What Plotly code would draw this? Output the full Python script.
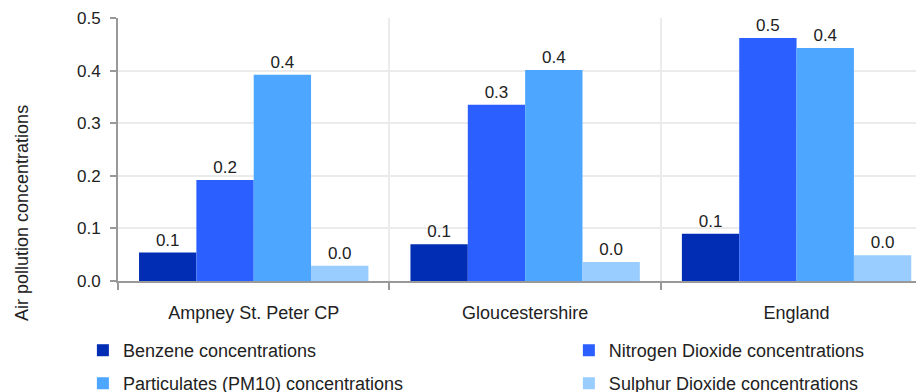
import plotly.graph_objects as go

categories = ["Ampney St. Peter CP", "Gloucestershire", "England"]
series_names = [
    "Benzene concentrations",
    "Nitrogen Dioxide concentrations",
    "Particulates (PM10) concentrations",
    "Sulphur Dioxide concentrations",
]
benzene = [0.054, 0.070, 0.090]
nitrogen_dioxide = [0.192, 0.335, 0.462]
pm10 = [0.392, 0.401, 0.443]
sulphur_dioxide = [0.029, 0.036, 0.049]
y_ticks = [0.0, 0.1, 0.2, 0.3, 0.4, 0.5]
y_title = "Air pollution concentrations"

series_values = [benzene, nitrogen_dioxide, pm10, sulphur_dioxide]
colors = ["#002db3", "#2b5fff", "#4da6ff", "#99ccff"]
legends = ["legend", "legend2", "legend3", "legend4"]

FONT = "Liberation Sans, Arial, sans-serif"
TXT = "#222222"

fig = go.Figure()
for name, vals, col, lg in zip(series_names, series_values, colors, legends):
    fig.add_trace(go.Bar(
        x=categories, y=vals, name=name,
        marker=dict(color=col, line=dict(width=0)),
        texttemplate="%{y:.1f}", textposition="outside",
        textfont=dict(family=FONT, size=17, color=TXT),
        cliponaxis=False, legend=lg, showlegend=True,
    ))

def leg(x, y):
    return dict(
        orientation="v", x=x, xanchor="left", y=y, yanchor="top",
        font=dict(family=FONT, size=18, color=TXT),
        bgcolor="rgba(0,0,0,0)", visible=True,
    )

fig.update_layout(
    width=916, height=392,
    showlegend=True,
    margin=dict(l=118, r=0, t=18, b=111, autoexpand=False),
    paper_bgcolor="white", plot_bgcolor="white",
    barmode="group", bargap=0.155, bargroupgap=0,
    font=dict(family=FONT, size=18, color=TXT),
    legend=leg(-0.044, -0.194),
    legend2=leg(0.565, -0.194),
    legend3=leg(-0.044, -0.320),
    legend4=leg(0.565, -0.320),
    xaxis=dict(
        range=[-0.5, 2.44], type="category",
        showline=True, linecolor="#999999", linewidth=2,
        ticks="outside", tickson="boundaries", ticklen=7, tickcolor="#999999", tickwidth=2,
        showgrid=True, gridcolor="#ebebeb", gridwidth=2,
        tickfont=dict(family=FONT, size=18, color=TXT),
        ticklabelstandoff=14,
        fixedrange=True, automargin=False,
    ),
    yaxis=dict(
        range=[0, 0.5], tickvals=y_ticks, tickformat=".1f",
        showline=True, linecolor="#999999", linewidth=2,
        ticks="outside", ticklen=6, tickcolor="#999999", tickwidth=2,
        showgrid=True, gridcolor="#ebebeb", gridwidth=2,
        zeroline=False,
        tickfont=dict(family=FONT, size=17, color=TXT),
        ticklabelstandoff=6,
        automargin=False, fixedrange=True,
    ),
    annotations=[dict(
        text=y_title, textangle=-90, showarrow=False,
        xref="paper", yref="paper", x=-0.1203, y=0.2586,
        xanchor="center", yanchor="middle",
        font=dict(family=FONT, size=18, color=TXT),
    )],
)

fig.write_html(
    "out.html",
    config={"displayModeBar": False},
    post_script="document.body.style.margin='0';document.body.style.padding='0';",
)
